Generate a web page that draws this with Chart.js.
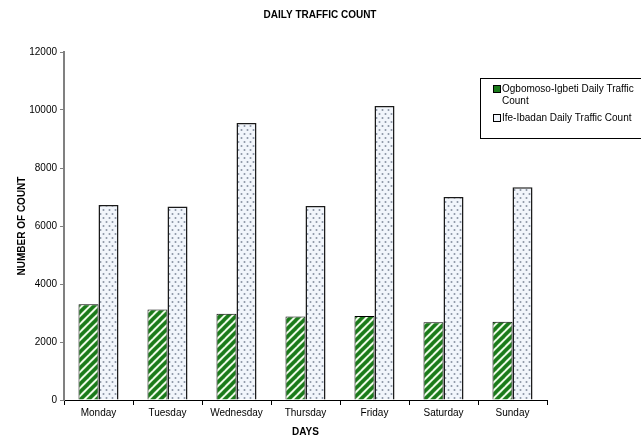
<!DOCTYPE html>
<html>
<head>
<meta charset="utf-8">
<title>Daily Traffic Count</title>
<script src="https://cdn.jsdelivr.net/npm/chart.js@4.4.0/dist/chart.umd.min.js"></script>
<style>
  html, body { margin: 0; padding: 0; background: #ffffff; }
  #wrap { width: 641px; height: 439px; }
</style>
</head>
<body>
<div id="wrap"><canvas id="chart" width="641" height="439"></canvas></div>
<script>
// Daily counts per route
const days = ['Monday', 'Tuesday', 'Wednesday', 'Thursday', 'Friday', 'Saturday', 'Sunday'];
const ogbomosoIgbeti = [3300, 3120, 2970, 2880, 2900, 2680, 2700];
const ifeIbadan = [6720, 6670, 9550, 6690, 10140, 7000, 7340];
const seriesNames = ['Ogbomoso-Igbeti Daily Traffic Count', 'Ife-Ibadan Daily Traffic Count'];
const yTicks = [0, 2000, 4000, 6000, 8000, 10000, 12000];
const chartTitle = 'DAILY TRAFFIC COUNT';
const xTitle = 'DAYS';
const yTitle = 'NUMBER OF COUNT';

const FONT = "'Liberation Sans', Arial, Helvetica, sans-serif";

// green diagonal hatch
function stripePattern() {
  const s = 8;
  const c = document.createElement('canvas');
  c.width = s; c.height = s;
  const g = c.getContext('2d');
  g.fillStyle = '#d3efc9';
  g.fillRect(0, 0, s, s);
  g.lineCap = 'square';
  g.strokeStyle = '#1a7a1a';
  g.lineWidth = 3.4;
  for (const o of [-s, 0, s]) {
    g.beginPath(); g.moveTo(o, s); g.lineTo(o + s, 0); g.stroke();
  }
  g.strokeStyle = '#ffffff';
  g.lineWidth = 0.9;
  for (const o of [-s, 0, s]) {
    g.beginPath(); g.moveTo(o + s / 2, s); g.lineTo(o + s + s / 2, 0); g.stroke();
  }
  return g.createPattern(c, 'repeat');
}

// pale dotted fill
function dotPattern() {
  const w = 6, h = 8;
  const c = document.createElement('canvas');
  c.width = w; c.height = h;
  const g = c.getContext('2d');
  g.fillStyle = '#f1f5fb';
  g.fillRect(0, 0, w, h);
  g.fillStyle = '#8a93a3';
  for (const [x, y] of [[1.5, 2], [4.5, 6]]) {
    g.beginPath(); g.arc(x, y, 1, 0, Math.PI * 2); g.fill();
  }
  return g.createPattern(c, 'repeat');
}

const fills = [stripePattern(), dotPattern()];

// chart heading, centred over the whole canvas
const headingPlugin = {
  id: 'heading',
  afterDraw(chart) {
    const ctx = chart.ctx;
    ctx.save();
    ctx.font = 'bold 10px ' + FONT;
    ctx.fillStyle = '#000';
    ctx.textAlign = 'center';
    ctx.textBaseline = 'middle';
    ctx.fillText(chartTitle, 320, 15);
    ctx.restore();
  }
};

// boxed legend on the right
const boxLegendPlugin = {
  id: 'boxLegend',
  afterDraw(chart) {
    const ctx = chart.ctx;
    const left = 480.5, top = 78.5, width = 170, height = 60;
    ctx.save();
    ctx.fillStyle = '#fff';
    ctx.fillRect(left, top, width, height);
    ctx.strokeStyle = '#000';
    ctx.lineWidth = 1;
    ctx.strokeRect(left, top, width, height);

    ctx.font = '10px ' + FONT;
    ctx.textAlign = 'left';
    ctx.textBaseline = 'middle';
    const textX = 502, maxW = 136, lineH = 12;
    let y = 89;
    chart.data.datasets.forEach((ds, i) => {
      // wrap the label into lines
      const words = ds.label.split(' ');
      const lines = [];
      let cur = '';
      for (const w of words) {
        const test = cur ? cur + ' ' + w : w;
        if (ctx.measureText(test).width > maxW && cur) { lines.push(cur); cur = w; }
        else cur = test;
      }
      lines.push(cur);

      ctx.fillStyle = i === 0 ? '#1a7a1a' : '#f1f5fb';
      ctx.fillRect(493.5, y - 3.5, 7, 7);
      ctx.strokeStyle = '#000';
      ctx.strokeRect(493.5, y - 3.5, 7, 7);

      ctx.fillStyle = '#000';
      lines.forEach((ln, k) => ctx.fillText(ln, textX, y + k * lineH));
      y += lines.length * lineH + 5;
    });
    ctx.restore();
  }
};

new Chart(document.getElementById('chart'), {
  type: 'bar',
  data: {
    labels: days,
    datasets: [
      {
        label: seriesNames[0],
        data: ogbomosoIgbeti,
        backgroundColor: fills[0],
        borderColor: '#000',
        borderWidth: 1,
        barPercentage: 1,
        categoryPercentage: 0.58
      },
      {
        label: seriesNames[1],
        data: ifeIbadan,
        backgroundColor: fills[1],
        borderColor: '#1a1a1a',
        borderWidth: 1.5,
        barPercentage: 1,
        categoryPercentage: 0.58
      }
    ]
  },
  options: {
    responsive: false,
    animation: false,
    devicePixelRatio: 1,
    layout: { padding: { top: 52, right: 94, left: 0, bottom: 0 } },
    plugins: {
      legend: { display: false },
      title: { display: false },
      tooltip: { enabled: false }
    },
    scales: {
      x: {
        grid: {
          display: true, drawOnChartArea: false, drawTicks: true,
          tickLength: 5, color: '#000', offset: true
        },
        border: { display: true, color: '#000', width: 1 },
        ticks: {
          color: '#000', font: { family: FONT, size: 10 },
          padding: 2, maxRotation: 0, autoSkip: false
        },
        title: {
          display: true, text: xTitle, color: '#000',
          font: { family: FONT, size: 10, weight: 'bold' },
          padding: { top: 0, bottom: 1 }
        },
        afterFit(scale) { scale.height = 39; }
      },
      y: {
        min: yTicks[0],
        max: yTicks[yTicks.length - 1],
        afterBuildTicks(scale) { scale.ticks = yTicks.map(v => ({ value: v })); },
        grid: {
          display: true, drawOnChartArea: false, drawTicks: true,
          tickLength: 4, color: '#808080'
        },
        border: { display: true, color: '#808080', width: 2 },
        ticks: {
          color: '#000', font: { family: FONT, size: 10 }, padding: 3,
          callback: (value) => String(value)
        },
        title: {
          display: true, text: yTitle, color: '#000',
          font: { family: FONT, size: 10, weight: 'bold' },
          padding: { top: 16, bottom: 0 }
        },
        afterFit(scale) { scale.width = 64; }
      }
    }
  },
  plugins: [headingPlugin, boxLegendPlugin]
});
</script>
</body>
</html>
